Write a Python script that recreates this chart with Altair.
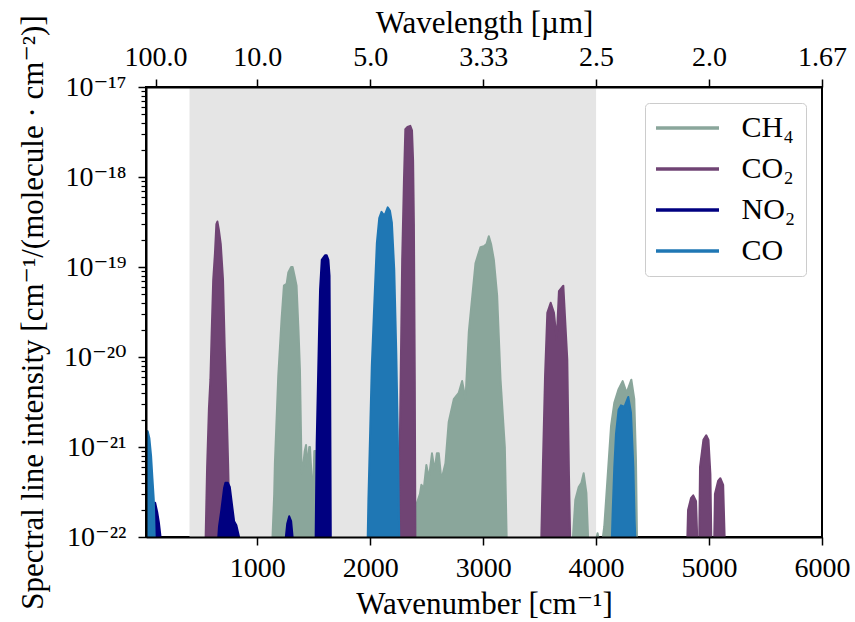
import altair as alt
import pandas as pd

# ---------------- data ----------------
molecules = ["CH₄", "CO₂", "NO₂", "CO"]
colors = ["#8aa69b", "#704474", "#000080", "#1f77b4"]

# CH4 bands: wavenumber [cm^-1], intensity
ch4_b1_wn = [1135, 1150, 1156, 1186, 1215, 1236, 1260, 1275, 1300, 1313, 1330, 1348, 1365, 1378,
             1393, 1405, 1420, 1432, 1445, 1460, 1467, 1480, 1493, 1505, 1520, 1535]
ch4_b1_I = [1e-22, 3e-22, 6.6e-22, 6.2e-21, 2.6e-20, 6.2e-20, 6.5e-20, 8.7e-20, 1.0e-19, 1.0e-19,
            8e-20, 6.2e-20, 2e-20, 7.2e-21, 5.1e-22, 6e-22, 9e-22, 1.05e-21, 6e-22, 1e-21, 1e-21,
            5e-22, 2.6e-22, 9e-22, 9e-22, 1e-22]
ch4_b2_wn = [2380, 2400, 2414, 2440, 2453, 2475, 2497, 2520, 2547, 2570, 2590, 2607, 2625, 2636,
             2666, 2695, 2740, 2784, 2814, 2844, 2873, 2932, 2976, 3006, 3030, 3050, 3070, 3095,
             3124, 3154, 3192, 3208]
ch4_b2_I = [1e-22, 2.4e-22, 2.4e-22, 3e-22, 3.8e-22, 3.5e-22, 6.3e-22, 4.5e-22, 8.5e-22, 5.5e-22,
            8.5e-22, 8.5e-22, 5e-22, 4.6e-22, 6.6e-22, 1.9e-21, 3.4e-21, 4e-21, 5.4e-21, 3.4e-21,
            1.9e-20, 1.1e-19, 1.66e-19, 1.7e-19, 1.8e-19, 2.2e-19, 1.8e-19, 1.2e-19, 4.8e-20,
            5.6e-21, 1.0e-21, 1e-22]
ch4_b3_wn = [3795, 3816, 3846, 3870, 3890, 3914, 3929]
ch4_b3_I = [1e-22, 2.6e-22, 3.6e-22, 4e-22, 5.1e-22, 3.1e-22, 1e-22]
ch4_b4_wn = [4005, 4013, 4020]
ch4_b4_I = [1e-22, 1.1e-22, 1e-22]
ch4_b5_wn = [4060, 4072, 4102, 4132, 4161, 4199, 4235, 4270, 4312, 4338, 4353, 4362]
ch4_b5_I = [1e-22, 1.3e-22, 4.7e-22, 1.7e-21, 3.1e-21, 4.4e-21, 5.4e-21, 4e-21, 5.6e-21, 3.4e-21,
            7.2e-22, 1e-22]

# CO2 bands
co2_b1_wn = [543, 556, 572, 585, 597, 610, 625, 638, 647, 660, 677, 697, 712, 727, 742, 757]
co2_b1_I = [1e-22, 6e-22, 2.7e-21, 5.6e-21, 2e-20, 7.2e-20, 1.4e-19, 3.0e-19, 3.2e-19, 2.6e-19,
            1.8e-19, 7.2e-20, 1.3e-20, 3.4e-21, 6.6e-22, 1e-22]
co2_b2_wn = [2258, 2262, 2268, 2283, 2299, 2311, 2330, 2355, 2370, 2380, 2387, 2395, 2400]
co2_b2_I = [1e-22, 1e-21, 4e-21, 1.2e-19, 9.5e-19, 3.4e-18, 3.6e-18, 3.7e-18, 3.3e-18, 1.5e-18,
            3e-19, 5e-21, 1e-22]
co2_b3_wn = [3515, 3530, 3548, 3568, 3598, 3627, 3651, 3671, 3710, 3745, 3760, 3770]
co2_b3_I = [1e-22, 7.2e-22, 6.2e-21, 3.1e-20, 4.0e-20, 3.1e-20, 1.55e-20, 5.4e-20, 6.2e-20,
            9.3e-21, 4.7e-22, 1e-22]
co2_b4_wn = [4808, 4814, 4840, 4860, 4885, 4895]
co2_b4_I = [1e-22, 2e-22, 2.7e-22, 2.9e-22, 2.5e-22, 1e-22]
co2_b5_wn = [4913, 4920, 4950, 4975, 4995, 5012, 5020]
co2_b5_I = [1e-22, 6e-22, 1.2e-21, 1.35e-21, 1.2e-21, 5e-22, 1e-22]
co2_b6_wn = [5046, 5052, 5080, 5100, 5125, 5138]
co2_b6_I = [1e-22, 3e-22, 4.2e-22, 4.5e-22, 3.8e-22, 1e-22]

# NO2 bands
no2_b1_wn = [15, 40, 70, 96, 114, 129, 144]
no2_b1_I = [1.6e-22, 2e-22, 2.4e-22, 2.4e-22, 1.9e-22, 1.45e-22, 1e-22]
no2_b2_wn = [655, 661, 682, 706, 718, 740, 757, 771, 795, 815, 839]
no2_b2_I = [1e-22, 1.3e-22, 2e-22, 3.5e-22, 4e-22, 4e-22, 3.6e-22, 2.6e-22, 1.5e-22, 1.35e-22, 1e-22]
no2_b3_wn = [1253, 1265, 1283, 1300, 1313]
no2_b3_I = [1e-22, 1.4e-22, 1.7e-22, 1.5e-22, 1e-22]
no2_b4_wn = [1517, 1526, 1547, 1556, 1571, 1600, 1615, 1630, 1640, 1645, 1651]
no2_b4_I = [1e-22, 1.1e-21, 1.9e-20, 5.6e-20, 1.2e-19, 1.35e-19, 1.35e-19, 1.2e-19, 8e-20, 8e-21, 1e-22]

# CO bands
co_b1_wn = [15, 20, 30, 45, 60, 72, 84, 92]
co_b1_I = [1.3e-21, 1.45e-21, 1.5e-21, 1.25e-21, 8e-22, 4.5e-22, 2.6e-22, 1e-22]
co_b2_wn = [1978, 1984, 2000, 2014, 2035, 2059, 2080, 2100, 2118, 2133, 2155, 2175, 2192, 2213,
            2231, 2245, 2257]
co_b2_I = [1e-22, 2.6e-22, 1.55e-21, 7.9e-21, 3.6e-20, 1.86e-19, 3.5e-19, 4.1e-19, 3.8e-19,
           3.9e-19, 4.6e-19, 4.2e-19, 3.1e-19, 9.3e-20, 1.1e-20, 1.2e-21, 1e-22]
co_b3_wn = [4140, 4146, 4161, 4176, 4199, 4220, 4250, 4285, 4309, 4330, 4341, 4347]
co_b3_I = [1e-22, 1.8e-22, 6e-22, 1.4e-21, 2.6e-21, 2.9e-21, 2.8e-21, 3.6e-21, 2.4e-21, 6e-22,
           1.55e-22, 1e-22]

# shaded window
window_start = [400]
window_end = [4000]

# axes
x_ticks = [1000, 2000, 3000, 4000, 5000, 6000]
top_ticks = [100, 1000, 2000, 3000, 4000, 5000, 6000]
top_labels = ["100.0", "10.0", "5.0", "3.33", "2.5", "2.0", "1.67"]
y_ticks = [1e-22, 1e-21, 1e-20, 1e-19, 1e-18, 1e-17]
y_labels = ["10⁻²²", "10⁻²¹", "10⁻²⁰", "10⁻¹⁹", "10⁻¹⁸", "10⁻¹⁷"]
y_minor = [m * 10.0 ** e for e in range(-22, -17) for m in range(2, 10)]

# ---------------- build tables ----------------
bands = {
    "CH₄": [(ch4_b1_wn, ch4_b1_I), (ch4_b2_wn, ch4_b2_I), (ch4_b3_wn, ch4_b3_I),
            (ch4_b4_wn, ch4_b4_I), (ch4_b5_wn, ch4_b5_I)],
    "CO₂": [(co2_b1_wn, co2_b1_I), (co2_b2_wn, co2_b2_I), (co2_b3_wn, co2_b3_I),
            (co2_b4_wn, co2_b4_I), (co2_b5_wn, co2_b5_I), (co2_b6_wn, co2_b6_I)],
    "NO₂": [(no2_b1_wn, no2_b1_I), (no2_b2_wn, no2_b2_I), (no2_b3_wn, no2_b3_I),
            (no2_b4_wn, no2_b4_I)],
    "CO": [(co_b1_wn, co_b1_I), (co_b2_wn, co_b2_I), (co_b3_wn, co_b3_I)],
}


def table(name):
    rows = []
    for i, (wn, inten) in enumerate(bands[name]):
        for w, v in zip(wn, inten):
            rows.append({"molecule": name, "band": f"{name}-{i}", "wn": w, "I": v})
    return pd.DataFrame(rows)


FONT = "'Liberation Serif', 'DejaVu Serif', serif"
FS = 28
TFS = 31
LFS = 30

xscale = alt.Scale(domain=[15, 6000], nice=False, zero=False)
yscale = alt.Scale(type="log", domain=[1e-22, 1e-17], nice=False)
cscale = alt.Scale(domain=molecules, range=colors)

bottom_axis = alt.Axis(orient="bottom", values=x_ticks, format="d", title="Wavenumber [cm⁻¹]",
                       tickSize=8, tickWidth=1.5, tickColor="black", domainColor="black",
                       domainWidth=2, labelPadding=9, titlePadding=7, grid=False, zindex=1,
                       labelFlush=False)
top_label_expr = "%s[indexof(%s, datum.value)]" % (top_labels, top_ticks)
top_axis = alt.Axis(orient="top", values=top_ticks, labelExpr=top_label_expr,
                    title="Wavelength [µm]", tickSize=8, tickWidth=1.5, tickColor="black",
                    domainColor="black", domainWidth=2, labelPadding=8, titlePadding=4,
                    grid=False, zindex=1, labelFlush=False)
left_label_expr = "%s[round(log(datum.value)/LN10)+22]" % (y_labels,)
left_axis = alt.Axis(orient="left", values=y_ticks, labelExpr=left_label_expr,
                     title="Spectral line intensity [cm⁻¹/(molecule · cm⁻²)]",
                     tickSize=8, tickWidth=1.5, tickColor="black", domainColor="black",
                     domainWidth=2, labelPadding=12, titlePadding=14, grid=False, zindex=1,
                     labelFlush=False)
minor_axis = alt.Axis(orient="left", values=y_minor, labels=False, title=None, tickSize=5,
                      tickWidth=1.2, tickColor="black", domain=False, grid=False, zindex=1)

legend = alt.Legend(orient="none", legendX=499, legendY=16, title=None,
                    symbolType="M-3,0H3", symbolSize=441, symbolStrokeWidth=3.5,
                    symbolOffset=17.5, labelOffset=39, labelFont=FONT, labelFontSize=LFS,
                    labelColor="black", rowPadding=11, padding=10, strokeColor="#cccccc",
                    fillColor="white", cornerRadius=4)

window_df = pd.DataFrame({"start": window_start, "end": window_end})
window = alt.Chart(window_df).mark_rect(color="#e5e5e5").encode(
    x=alt.X("start:Q", scale=xscale, axis=None),
    x2="end:Q",
    y=alt.YDatum(1e-17, type="quantitative", scale=yscale, axis=None),
    y2=alt.Y2Datum(1e-22),
)

layers = [window]
for k, name in enumerate(molecules):
    df = table(name)
    base = alt.Chart(df)
    area = base.mark_area(clip=True, opacity=1, color=colors[k]).encode(
        x=alt.X("wn:Q", scale=xscale, axis=bottom_axis if k == 0 else None),
        y=alt.Y("I:Q", scale=yscale, stack=None, axis=left_axis if k == 0 else None),
        y2=alt.Y2Datum(1e-22),
        detail="band:N",
    )
    line = base.mark_line(clip=True, strokeWidth=2, strokeJoin="round", strokeCap="round").encode(
        x=alt.X("wn:Q", scale=xscale, axis=top_axis if k == 0 else None),
        y=alt.Y("I:Q", scale=yscale, axis=minor_axis if k == 0 else None),
        stroke=alt.Stroke("molecule:N", scale=cscale, legend=legend),
        detail="band:N",
    )
    layers += [area, line]

chart = alt.layer(*layers).resolve_axis(x="independent", y="independent").properties(
    width=676, height=450,
    autosize=alt.AutoSizeParams(type="none"),
    padding={"left": 146, "top": 87, "right": 33, "bottom": 85},
).configure(font=FONT).configure_axis(
    labelFont=FONT, labelFontSize=FS, labelColor="black",
    titleFont=FONT, titleFontSize=TFS, titleColor="black", titleFontWeight="normal",
).configure_legend(labelFont=FONT).configure_view(stroke="black", strokeWidth=2)

chart.save("out.html", embed_options={"renderer": "svg", "actions": False})
